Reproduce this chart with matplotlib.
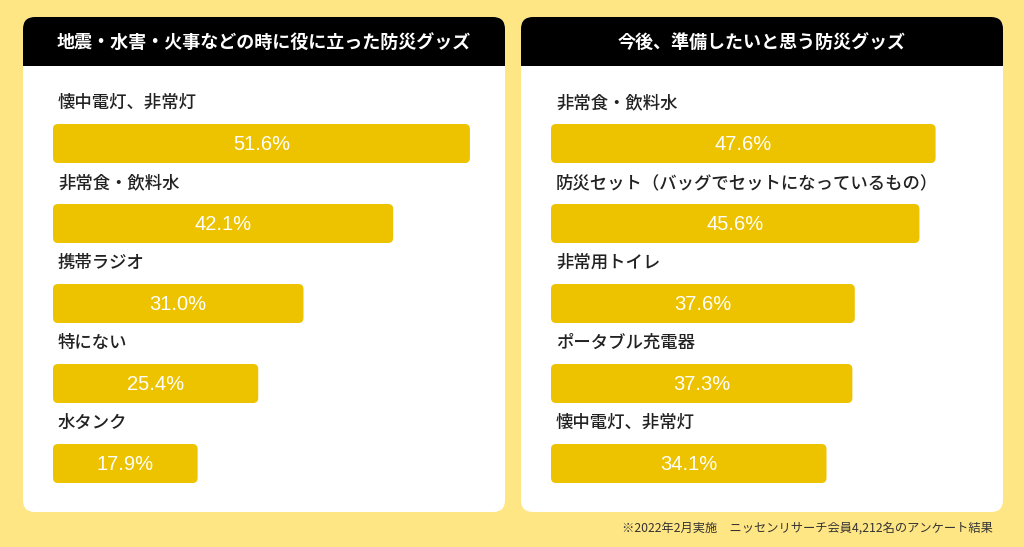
import matplotlib
matplotlib.use("Agg")
import matplotlib.pyplot as plt
from matplotlib.patches import FancyBboxPatch, Rectangle

plt.rcParams['font.family'] = ['Noto Sans CJK JP', 'DejaVu Sans']

# === Données ===
left_title = "地震・水害・火事などの時に役に立った防災グッズ"
left_labels = ["懐中電灯、非常灯", "非常食・飲料水", "携帯ラジオ", "特にない", "水タンク"]
left_values = [51.6, 42.1, 31.0, 25.4, 17.9]

right_title = "今後、準備したいと思う防災グッズ"
right_labels = ["非常食・飲料水", "防災セット（バッグでセットになっているもの）",
                "非常用トイレ", "ポータブル充電器", "懐中電灯、非常灯"]
right_values = [47.6, 45.6, 37.6, 37.3, 34.1]

note = "※2022年2月実施　ニッセンリサーチ会員4,212名のアンケート結果"

# === Style ===
W, H = 1024, 547
BG = '#FFE684'
BAR = '#EDC300'
PX_PER_PCT = 8.08
ROW = 80
TOP, BOTTOM, PW, HEAD = 17, 512, 482, 66

fig = plt.figure(figsize=(W / 100, H / 100), dpi=100)
fig.patch.set_facecolor(BG)

# fond en coordonnées pixels
bg = fig.add_axes([0, 0, 1, 1])
bg.set_xlim(0, W)
bg.set_ylim(H, 0)
bg.axis('off')

panels = [
    (23, left_title, left_labels, left_values),
    (521, right_title, right_labels, right_values),
]

for x0, title, labels, values in panels:
    bg.add_patch(FancyBboxPatch((x0, TOP), PW, BOTTOM - TOP,
                                boxstyle="round,pad=0,rounding_size=12",
                                fc='white', ec='none'))
    bg.add_patch(FancyBboxPatch((x0, TOP), PW, HEAD - TOP,
                                boxstyle="round,pad=0,rounding_size=12",
                                fc='black', ec='none'))
    bg.add_patch(Rectangle((x0, TOP + 20), PW, HEAD - TOP - 20, fc='black', ec='none'))
    bg.text(x0 + PW / 2, (TOP + HEAD) / 2 + 1, title, color='white', fontsize=13,
            fontweight='bold', ha='center', va='center')

    ax = fig.add_axes([x0 / W, 1 - BOTTOM / H, PW / W, (BOTTOM - TOP) / H])
    ax.set_xlim(-30 / PX_PER_PCT, (PW - 30) / PX_PER_PCT)
    ax.set_ylim(BOTTOM - TOP, 0)
    ax.axis('off')

    for i, (lab, v) in enumerate(zip(labels, values)):
        yb = 107 + i * ROW
        ax.add_patch(FancyBboxPatch((0, yb), v, 39,
                                    boxstyle=f"round,pad=0,rounding_size={5 / PX_PER_PCT}",
                                    mutation_aspect=PX_PER_PCT, fc=BAR, ec='none'))
        ax.text(5 / PX_PER_PCT, yb - 21, lab, color='#222222', fontsize=12.5,
                fontweight='medium', ha='left', va='center')
        ax.text(v / 2, yb + 20, f"{v:.1f}%", color='white', fontsize=14.5,
                family=['Liberation Sans', 'DejaVu Sans'], ha='center', va='center')

bg.text(993, 528, note, color='#333333', fontsize=8.8, ha='right', va='center')

fig.savefig("out.png", dpi=100, facecolor=BG)
